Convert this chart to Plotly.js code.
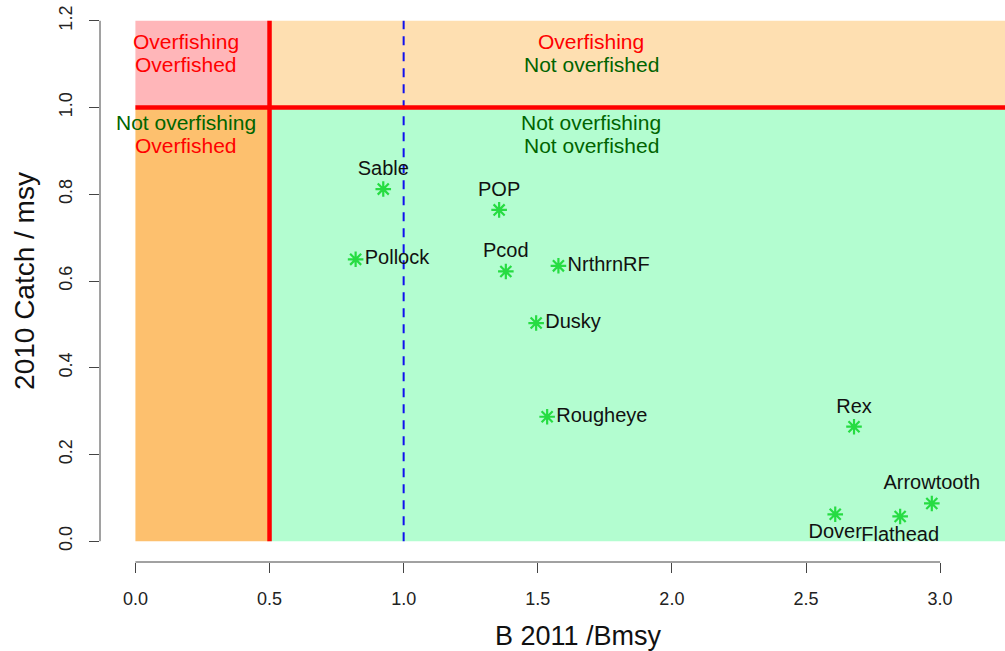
<!DOCTYPE html>
<html>
<head>
<meta charset="utf-8">
<script src="https://cdn.plot.ly/plotly-3.0.1.min.js"></script>
<style>
html, body { margin: 0; padding: 0; overflow: hidden; background: #ffffff; width: 1005px; height: 651px; }
#chart { width: 1056px; height: 651px; }
</style>
</head>
<body>
<div id="chart"></div>
<script>
// ---- data ----
const species    = ['Sable', 'POP', 'Pollock', 'Pcod', 'NrthrnRF', 'Dusky', 'Rougheye', 'Rex', 'Arrowtooth', 'Dover', 'Flathead'];
const bRatio     = [0.924, 1.356, 0.821, 1.381, 1.577, 1.494, 1.535, 2.679, 2.969, 2.609, 2.851];
const catchRatio = [0.812, 0.764, 0.650, 0.622, 0.635, 0.503, 0.287, 0.264, 0.087, 0.062, 0.057];
const labelSide  = ['top center', 'top center', 'middle right', 'top center', 'middle right', 'middle right',
                    'middle right', 'top center', 'top center', 'bottom center', 'bottom center'];

const xTickVals = [0, 0.5, 1.0, 1.5, 2.0, 2.5, 3.0];
const xTickText = ['0.0', '0.5', '1.0', '1.5', '2.0', '2.5', '3.0'];
const yTickVals = [0, 0.2, 0.4, 0.6, 0.8, 1.0, 1.2];
const yTickText = ['0.0', '0.2', '0.4', '0.6', '0.8', '1.0', '1.2'];

const xLim = [0, 3.3];
const yLim = [0, 1.2];
const bLimit = 0.5;        // overfished threshold
const bTarget = 1.0;       // Bmsy
const catchLimit = 1.0;    // overfishing threshold

const regionX     = [0.19, 1.7, 0.19, 1.7];
const regionY     = [1.125, 1.125, 0.94, 0.94];
const regionLine1 = ['Overfishing', 'Overfishing', 'Not overfishing', 'Not overfishing'];
const regionLine2 = ['Overfished', 'Not overfished', 'Overfished', 'Not overfished'];

// ---- styles ----
const RED = '#ff0000';
const DKGREEN = '#006400';
const regionCol1 = [RED, RED, DKGREEN, DKGREEN];
const regionCol2 = [RED, DKGREEN, RED, DKGREEN];
const FONT = 'Liberation Sans, Arial, Helvetica, sans-serif';
const AXC = '#444444';
const PTC = '#26dc42';

const xSpan = xLim[1] - xLim[0];
const ySpan = yLim[1] - yLim[0];
const xRange = [xLim[0] - 0.04 * xSpan, xLim[1] + 0.04 * xSpan];
const yRange = [yLim[0] - 0.04 * ySpan, yLim[1] + 0.04 * ySpan];

const shapes = [
  // quadrants
  {type: 'rect', xref: 'x', yref: 'y', x0: xLim[0], x1: bLimit, y0: catchLimit, y1: yLim[1], fillcolor: '#ffb6b9', line: {width: 0}, layer: 'below'},
  {type: 'rect', xref: 'x', yref: 'y', x0: bLimit, x1: xRange[1], y0: catchLimit, y1: yLim[1], fillcolor: '#fedfb1', line: {width: 0}, layer: 'below'},
  {type: 'rect', xref: 'x', yref: 'y', x0: xLim[0], x1: bLimit, y0: yLim[0], y1: catchLimit, fillcolor: '#fdc06e', line: {width: 0}, layer: 'below'},
  {type: 'rect', xref: 'x', yref: 'y', x0: bLimit, x1: xRange[1], y0: yLim[0], y1: catchLimit, fillcolor: '#b3fdd0', line: {width: 0}, layer: 'below'},
  // reference lines
  {type: 'line', xref: 'x', yref: 'y', x0: bTarget, x1: bTarget, y0: yLim[0], y1: yLim[1], line: {color: '#1010ee', width: 2, dash: '9px,7px'}, layer: 'below'},
  {type: 'line', xref: 'x', yref: 'y', x0: xLim[0], x1: xRange[1], y0: catchLimit, y1: catchLimit, line: {color: RED, width: 4.5}, layer: 'below'},
  {type: 'line', xref: 'x', yref: 'y', x0: bLimit, x1: bLimit, y0: yLim[0], y1: yLim[1], line: {color: RED, width: 4.5}, layer: 'below'},
  // R-style axis lines (only between first and last tick)
  {type: 'line', xref: 'x', yref: 'paper', x0: xTickVals[0], x1: xTickVals[xTickVals.length - 1], y0: 0, y1: 0, line: {color: AXC, width: 1}},
  {type: 'line', xref: 'paper', yref: 'y', x0: 0, x1: 0, y0: yTickVals[0], y1: yTickVals[yTickVals.length - 1], line: {color: AXC, width: 1}}
];

const annotations = [];
for (let i = 0; i < regionX.length; i++) {
  annotations.push({x: regionX[i], y: regionY[i], xref: 'x', yref: 'y', text: regionLine1[i], showarrow: false,
    xanchor: 'center', yanchor: 'middle', yshift: 11.5, font: {family: FONT, size: 21, color: regionCol1[i]}});
  annotations.push({x: regionX[i], y: regionY[i], xref: 'x', yref: 'y', text: regionLine2[i], showarrow: false,
    xanchor: 'center', yanchor: 'middle', yshift: -11.5, font: {family: FONT, size: 21, color: regionCol2[i]}});
}

const trace = {
  type: 'scatter',
  mode: 'markers+text',
  x: bRatio,
  y: catchRatio,
  text: species,
  textposition: labelSide,
  textfont: {family: FONT, size: 20, color: '#111111'},
  marker: {symbol: 'asterisk-open', size: 13, color: PTC, line: {color: PTC, width: 2.2}},
  cliponaxis: false,
  hoverinfo: 'skip',
  showlegend: false
};

const layout = {
  width: 1056,
  height: 651,
  margin: {l: 100, r: 0, t: 0, b: 89},
  paper_bgcolor: '#ffffff',
  plot_bgcolor: '#ffffff',
  font: {family: FONT, color: '#222222'},
  showlegend: false,
  hovermode: false,
  xaxis: {
    range: xRange, autorange: false, showgrid: false, zeroline: false, showline: false,
    tickmode: 'array', tickvals: xTickVals, ticktext: xTickText,
    ticks: 'outside', ticklen: 10, tickwidth: 1, tickcolor: AXC,
    ticklabelstandoff: 10,
    tickfont: {family: FONT, size: 18, color: '#222222'},
    title: {text: 'B 2011 /Bmsy', font: {family: FONT, size: 27, color: '#111111'}, standoff: 18}
  },
  yaxis: {
    range: yRange, autorange: false, showgrid: false, zeroline: false, showline: false,
    tickmode: 'array', tickvals: yTickVals, ticktext: yTickText, tickangle: -90,
    ticks: 'outside', ticklen: 10, tickwidth: 1, tickcolor: AXC,
    ticklabelstandoff: 10,
    tickfont: {family: FONT, size: 18, color: '#222222'},
    title: {text: '2010 Catch / msy', font: {family: FONT, size: 28, color: '#111111'}, standoff: 12}
  },
  shapes: shapes,
  annotations: annotations
};

Plotly.newPlot('chart', [trace], layout, {displayModeBar: false, staticPlot: true});
</script>
</body>
</html>
